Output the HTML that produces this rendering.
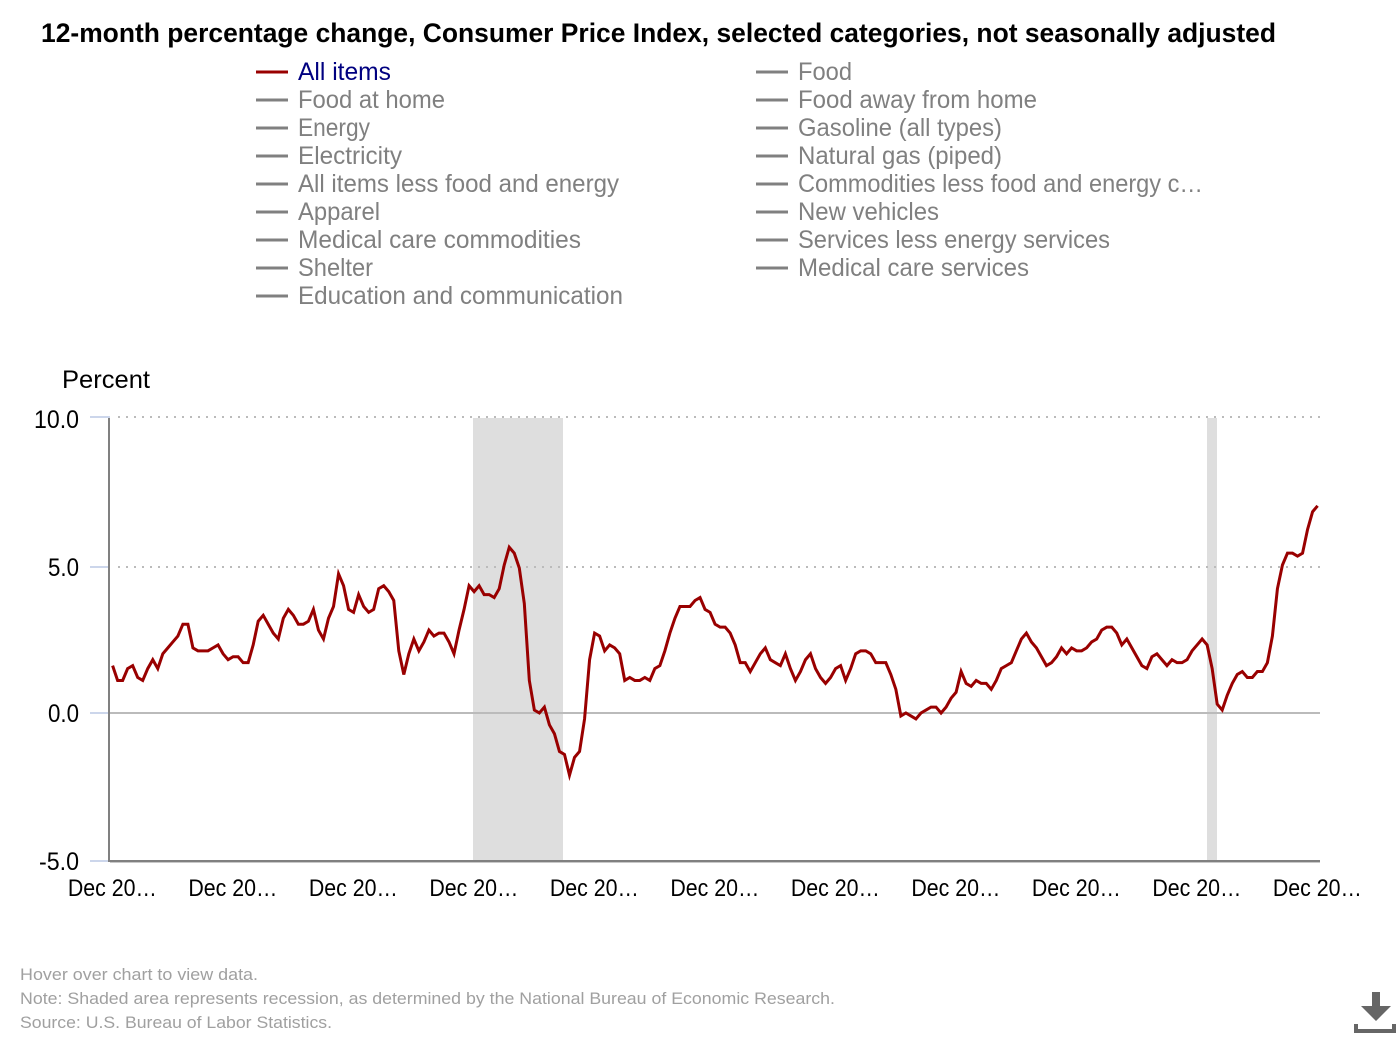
<!DOCTYPE html>
<html lang="en">
<head>
<meta charset="utf-8">
<title>12-month percentage change, Consumer Price Index</title>
<style>
html,body{margin:0;padding:0;background:#fff;width:1400px;height:1040px;overflow:hidden}
svg{display:block;font-family:"Liberation Sans",sans-serif}
.lg{font-size:25px;fill:#808080}
.ll{stroke:#808080;stroke-width:3}
.ft{font-size:17px;fill:#a0a0a0}
</style>
</head>
<body>
<svg id="chart" width="1400" height="1040" viewBox="0 0 1400 1040" xmlns="http://www.w3.org/2000/svg">
<text x="41" y="42" font-size="27" font-weight="bold" fill="#000" textLength="1235" lengthAdjust="spacingAndGlyphs">12-month percentage change, Consumer Price Index, selected categories, not seasonally adjusted</text>

<g>
<g><line x1="256" x2="288" y1="72" y2="72" stroke="#990000" stroke-width="3"/><text x="298" y="80" font-size="25" fill="#000080" textLength="93" lengthAdjust="spacingAndGlyphs">All items</text></g>
<g><line class="ll" x1="256" x2="288" y1="100" y2="100"/><text class="lg" x="298" y="108" textLength="147" lengthAdjust="spacingAndGlyphs">Food at home</text></g>
<g><line class="ll" x1="256" x2="288" y1="128" y2="128"/><text class="lg" x="298" y="136" textLength="72" lengthAdjust="spacingAndGlyphs">Energy</text></g>
<g><line class="ll" x1="256" x2="288" y1="156" y2="156"/><text class="lg" x="298" y="164" textLength="104" lengthAdjust="spacingAndGlyphs">Electricity</text></g>
<g><line class="ll" x1="256" x2="288" y1="184" y2="184"/><text class="lg" x="298" y="192" textLength="321" lengthAdjust="spacingAndGlyphs">All items less food and energy</text></g>
<g><line class="ll" x1="256" x2="288" y1="212" y2="212"/><text class="lg" x="298" y="220" textLength="82" lengthAdjust="spacingAndGlyphs">Apparel</text></g>
<g><line class="ll" x1="256" x2="288" y1="240" y2="240"/><text class="lg" x="298" y="248" textLength="283" lengthAdjust="spacingAndGlyphs">Medical care commodities</text></g>
<g><line class="ll" x1="256" x2="288" y1="268" y2="268"/><text class="lg" x="298" y="276" textLength="75" lengthAdjust="spacingAndGlyphs">Shelter</text></g>
<g><line class="ll" x1="256" x2="288" y1="296" y2="296"/><text class="lg" x="298" y="304" textLength="325" lengthAdjust="spacingAndGlyphs">Education and communication</text></g>
<g><line class="ll" x1="756" x2="788" y1="72" y2="72"/><text class="lg" x="798" y="80" textLength="54" lengthAdjust="spacingAndGlyphs">Food</text></g>
<g><line class="ll" x1="756" x2="788" y1="100" y2="100"/><text class="lg" x="798" y="108" textLength="239" lengthAdjust="spacingAndGlyphs">Food away from home</text></g>
<g><line class="ll" x1="756" x2="788" y1="128" y2="128"/><text class="lg" x="798" y="136" textLength="204" lengthAdjust="spacingAndGlyphs">Gasoline (all types)</text></g>
<g><line class="ll" x1="756" x2="788" y1="156" y2="156"/><text class="lg" x="798" y="164" textLength="204" lengthAdjust="spacingAndGlyphs">Natural gas (piped)</text></g>
<g><line class="ll" x1="756" x2="788" y1="184" y2="184"/><text class="lg" x="798" y="192" textLength="405" lengthAdjust="spacingAndGlyphs">Commodities less food and energy c…</text></g>
<g><line class="ll" x1="756" x2="788" y1="212" y2="212"/><text class="lg" x="798" y="220" textLength="141" lengthAdjust="spacingAndGlyphs">New vehicles</text></g>
<g><line class="ll" x1="756" x2="788" y1="240" y2="240"/><text class="lg" x="798" y="248" textLength="312" lengthAdjust="spacingAndGlyphs">Services less energy services</text></g>
<g><line class="ll" x1="756" x2="788" y1="268" y2="268"/><text class="lg" x="798" y="276" textLength="231" lengthAdjust="spacingAndGlyphs">Medical care services</text></g>
</g>

<text x="62" y="388" font-size="25" fill="#000" textLength="88" lengthAdjust="spacingAndGlyphs">Percent</text>

<g id="bands"></g>
<g id="grid"></g>
<g id="ylabels"></g>
<g id="xlabels"></g>
<rect x="110" y="862" width="1210" height="1" fill="#c8c8c8"/>
<line x1="108" x2="1320" y1="861" y2="861" stroke="#808080" stroke-width="2"/>
<line x1="109" x2="109" y1="418" y2="862" stroke="#808080" stroke-width="2"/>
<path id="series" fill="none" stroke="#990000" stroke-width="3" stroke-linejoin="miter"/>

<g>
<text class="ft" x="20" y="980" textLength="238" lengthAdjust="spacingAndGlyphs">Hover over chart to view data.</text>
<text class="ft" x="20" y="1004" textLength="815" lengthAdjust="spacingAndGlyphs">Note: Shaded area represents recession, as determined by the National Bureau of Economic Research.</text>
<text class="ft" x="20" y="1028" textLength="312" lengthAdjust="spacingAndGlyphs">Source: U.S. Bureau of Labor Statistics.</text>
</g>

<g fill="#666666">
<polygon points="1372,992 1380,992 1380,1006 1391,1006 1376,1021 1361,1006 1372,1006"/>
<polygon points="1354,1024 1358,1024 1358,1029 1392,1029 1392,1024 1396,1024 1396,1033 1354,1033"/>
</g>
</svg>

<script>
// Monthly 12-month % change, Dec 2001 to Dec 2021
var allItems = [1.6,
1.1,1.1,1.5,1.6,1.2,1.1,1.5,1.8,1.5,2.0,2.2,2.4,
2.6,3.0,3.0,2.2,2.1,2.1,2.1,2.2,2.3,2.0,1.8,1.9,
1.9,1.7,1.7,2.3,3.1,3.3,3.0,2.7,2.5,3.2,3.5,3.3,
3.0,3.0,3.1,3.5,2.8,2.5,3.2,3.6,4.7,4.3,3.5,3.4,
4.0,3.6,3.4,3.5,4.2,4.3,4.1,3.8,2.1,1.3,2.0,2.5,
2.1,2.4,2.8,2.6,2.7,2.7,2.4,2.0,2.8,3.5,4.3,4.1,
4.3,4.0,4.0,3.9,4.2,5.0,5.6,5.4,4.9,3.7,1.1,0.1,
0.0,0.2,-0.4,-0.7,-1.3,-1.4,-2.1,-1.5,-1.3,-0.2,1.8,2.7,
2.6,2.1,2.3,2.2,2.0,1.1,1.2,1.1,1.1,1.2,1.1,1.5,
1.6,2.1,2.7,3.2,3.6,3.6,3.6,3.8,3.9,3.5,3.4,3.0,
2.9,2.9,2.7,2.3,1.7,1.7,1.4,1.7,2.0,2.2,1.8,1.7,
1.6,2.0,1.5,1.1,1.4,1.8,2.0,1.5,1.2,1.0,1.2,1.5,
1.6,1.1,1.5,2.0,2.1,2.1,2.0,1.7,1.7,1.7,1.3,0.8,
-0.1,0.0,-0.1,-0.2,0.0,0.1,0.2,0.2,0.0,0.2,0.5,0.7,
1.4,1.0,0.9,1.1,1.0,1.0,0.8,1.1,1.5,1.6,1.7,2.1,
2.5,2.7,2.4,2.2,1.9,1.6,1.7,1.9,2.2,2.0,2.2,2.1,
2.1,2.2,2.4,2.5,2.8,2.9,2.9,2.7,2.3,2.5,2.2,1.9,
1.6,1.5,1.9,2.0,1.8,1.6,1.8,1.7,1.7,1.8,2.1,2.3,
2.5,2.3,1.5,0.3,0.1,0.6,1.0,1.3,1.4,1.2,1.2,1.4,
1.4,1.7,2.6,4.2,5.0,5.4,5.4,5.3,5.4,6.2,6.8,7.0];
var yTicks = [10, 5, 0, -5];
var yTickLabels = ["10.0", "5.0", "0.0", "-5.0"];
var xTickMonths = [0, 24, 48, 72, 96, 120, 144, 168, 192, 216, 240];
var xTickLabels = ["Dec 20…","Dec 20…","Dec 20…","Dec 20…","Dec 20…","Dec 20…","Dec 20…","Dec 20…","Dec 20…","Dec 20…","Dec 20…"];
var recessionStarts = [72, 218];
var recessionEnds = [90, 220];

var NS = "http://www.w3.org/2000/svg";
function xScale(m){ return 112.6 + m * (1317.6 - 112.6) / 240; }
function bandX(m){ return Math.round(111.2 + m * 5.025); }
function yScale(v){ return 713 - v * 29.6; }
function gridY(v){ return v === 5 ? yScale(v) + 2 : yScale(v); }
function mk(tag, parent, attrs){
  var el = document.createElementNS(NS, tag);
  for (var k in attrs) el.setAttribute(k, attrs[k]);
  parent.appendChild(el);
  return el;
}

var bands = document.getElementById("bands");
recessionStarts.forEach(function(s, i){
  var x0 = bandX(s);
  var x1 = bandX(recessionEnds[i]);
  var r = mk("rect", bands, {x: x0, y: 418, width: x1 - x0, height: 443, fill: "#dedede"});
  
  
});

var grid = document.getElementById("grid");
var ylabels = document.getElementById("ylabels");
var yWidths = [45, 31, 31, 40];
yTicks.forEach(function(v, i){
  var y = gridY(v);
  var g = mk("line", grid, {x1: 118, x2: 1320, y1: y, y2: y, stroke: "#bbbbbb", "stroke-width": 2, "stroke-dasharray": v === 0 ? "none" : "2 6"});
  if (v === 0) g.setAttribute("x1", 110);
  
  
  var t = mk("line", grid, {x1: 90, x2: 110, y1: y, y2: y, stroke: "#ccd6eb", "stroke-width": 2});
  
  
  var l = mk("text", ylabels, {x: 79, y: y + (i === 0 ? 11 : 9), "font-size": 25, fill: "#000", "text-anchor": "end", textLength: yWidths[i], lengthAdjust: "spacingAndGlyphs"});
  l.textContent = yTickLabels[i];
  
  
});

var xlabels = document.getElementById("xlabels");
xTickMonths.forEach(function(m, i){
  var l = mk("text", xlabels, {x: xScale(m) - 44.7, y: 896, "font-size": 24, fill: "#000", textLength: 89, lengthAdjust: "spacingAndGlyphs"});
  l.textContent = xTickLabels[i];
  
  
});

var d = allItems.map(function(v, m){
  return (m ? "L" : "M") + xScale(m).toFixed(2) + " " + yScale(v).toFixed(2);
}).join("");
document.getElementById("series").setAttribute("d", d);
</script>
</body>
</html>
